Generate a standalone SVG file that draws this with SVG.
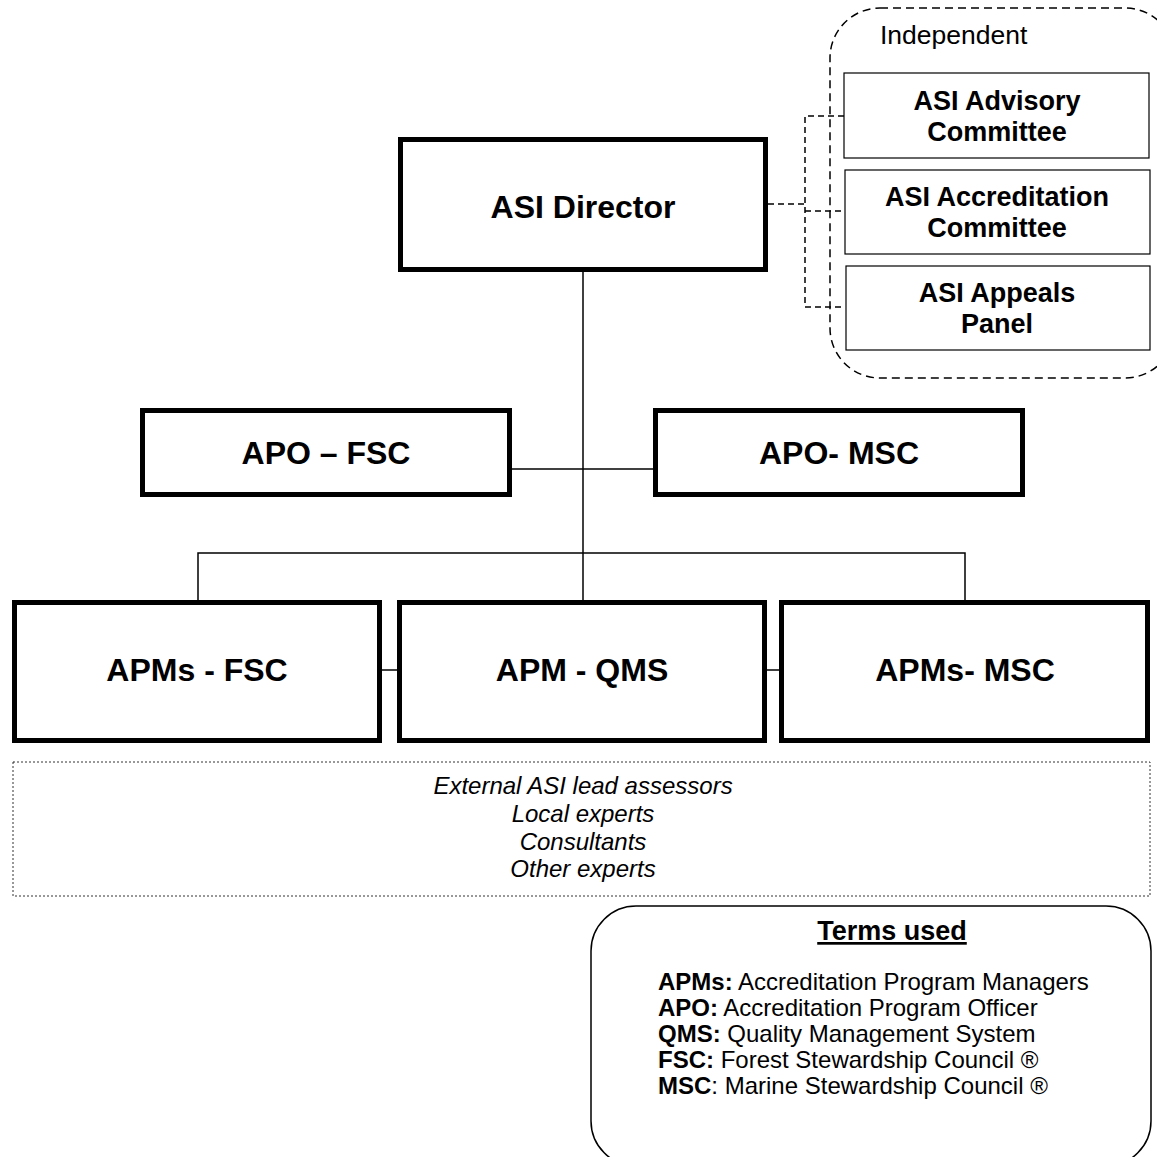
<svg xmlns="http://www.w3.org/2000/svg" width="1157" height="1157" viewBox="0 0 1157 1157">
<style>
.bg{fill:#fff}
.thick{fill:#fff;stroke:#000;stroke-width:5}
.thin{fill:#fff;stroke:#000;stroke-width:1.2}
.conn{fill:none;stroke:#000;stroke-width:1.5}
.dconn{fill:none;stroke:#000;stroke-width:1.5;stroke-dasharray:6 4}
.region{fill:none;stroke:#000;stroke-width:1.5;stroke-dasharray:8 5}
.dotted{fill:#fff;stroke:#333;stroke-width:1;stroke-dasharray:2 2}
.terms{fill:#fff;stroke:#000;stroke-width:1.5}
text{font-family:"Liberation Sans",Arial,sans-serif;fill:#000}
.big{font-size:32px;font-weight:bold;text-anchor:middle}
.mid{font-size:27px;font-weight:bold;text-anchor:middle}
.reg{font-size:26.5px}
.ital{font-size:24px;font-style:italic;text-anchor:middle}
.term{font-size:24px}
.b{font-weight:bold}
</style>
<rect class="bg" x="0" y="0" width="1157" height="1157"/>

<g id="connectors">
  <line class="conn" x1="583" y1="272" x2="583" y2="600"/>
  <line class="conn" x1="512" y1="469" x2="653" y2="469"/>
  <polyline class="conn" points="198,600 198,553 965,553 965,600"/>
  <line class="conn" x1="382" y1="670" x2="397" y2="670"/>
  <line class="conn" x1="767" y1="670" x2="779" y2="670"/>
  <polyline class="dconn" points="768,204 805,204"/>
  <polyline class="dconn" points="844,116 805,116 805,307 845,307"/>
  <line class="dconn" x1="805" y1="211" x2="845" y2="211"/>
</g>

<g id="independent">
  <rect class="region" x="830" y="8" width="345" height="370" rx="50" ry="50"/>
  <text class="reg" x="880" y="44">Independent</text>
</g>

<g id="advisory">
  <rect class="thin" x="844" y="73" width="305" height="85"/>
  <text class="mid" x="997" y="110">ASI Advisory</text>
  <text class="mid" x="997" y="141">Committee</text>
</g>
<g id="accreditation">
  <rect class="thin" x="845" y="170" width="305" height="84"/>
  <text class="mid" x="997" y="206">ASI Accreditation</text>
  <text class="mid" x="997" y="237">Committee</text>
</g>
<g id="appeals">
  <rect class="thin" x="846" y="266" width="304" height="84"/>
  <text class="mid" x="997" y="302">ASI Appeals</text>
  <text class="mid" x="997" y="333">Panel</text>
</g>

<g id="director">
  <rect class="thick" x="400.5" y="139.5" width="365" height="130"/>
  <text class="big" x="583" y="218">ASI Director</text>
</g>

<g id="apo-fsc">
  <rect class="thick" x="142.5" y="410.5" width="367" height="84"/>
  <text class="big" x="326" y="464">APO – FSC</text>
</g>
<g id="apo-msc">
  <rect class="thick" x="655.5" y="410.5" width="367" height="84"/>
  <text class="big" x="839" y="464">APO- MSC</text>
</g>

<g id="apms-fsc">
  <rect class="thick" x="14.5" y="602.5" width="365" height="138"/>
  <text class="big" x="197" y="681">APMs - FSC</text>
</g>
<g id="apm-qms">
  <rect class="thick" x="399.5" y="602.5" width="365" height="138"/>
  <text class="big" x="582" y="681">APM - QMS</text>
</g>
<g id="apms-msc">
  <rect class="thick" x="781.5" y="602.5" width="366" height="138"/>
  <text class="big" x="965" y="681">APMs- MSC</text>
</g>

<g id="external">
  <rect class="dotted" x="13" y="762" width="1137" height="134"/>
  <text class="ital" x="583" y="794">External ASI lead assessors</text>
  <text class="ital" x="583" y="822">Local experts</text>
  <text class="ital" x="583" y="850">Consultants</text>
  <text class="ital" x="583" y="877">Other experts</text>
</g>

<g id="terms">
  <rect class="terms" x="591" y="906" width="560" height="260" rx="45" ry="45"/>
  <text x="892" y="940" style="font-size:27px;font-weight:bold;text-anchor:middle;text-decoration:underline">Terms used</text>
  <text class="term" x="658" y="990"><tspan class="b">APMs:</tspan> Accreditation Program Managers</text>
  <text class="term" x="658" y="1016"><tspan class="b">APO:</tspan> Accreditation Program Officer</text>
  <text class="term" x="658" y="1042"><tspan class="b">QMS:</tspan> Quality Management System</text>
  <text class="term" x="658" y="1068"><tspan class="b">FSC:</tspan> Forest Stewardship Council ®</text>
  <text class="term" x="658" y="1094"><tspan class="b">MSC</tspan>: Marine Stewardship Council ®</text>
</g>
</svg>
